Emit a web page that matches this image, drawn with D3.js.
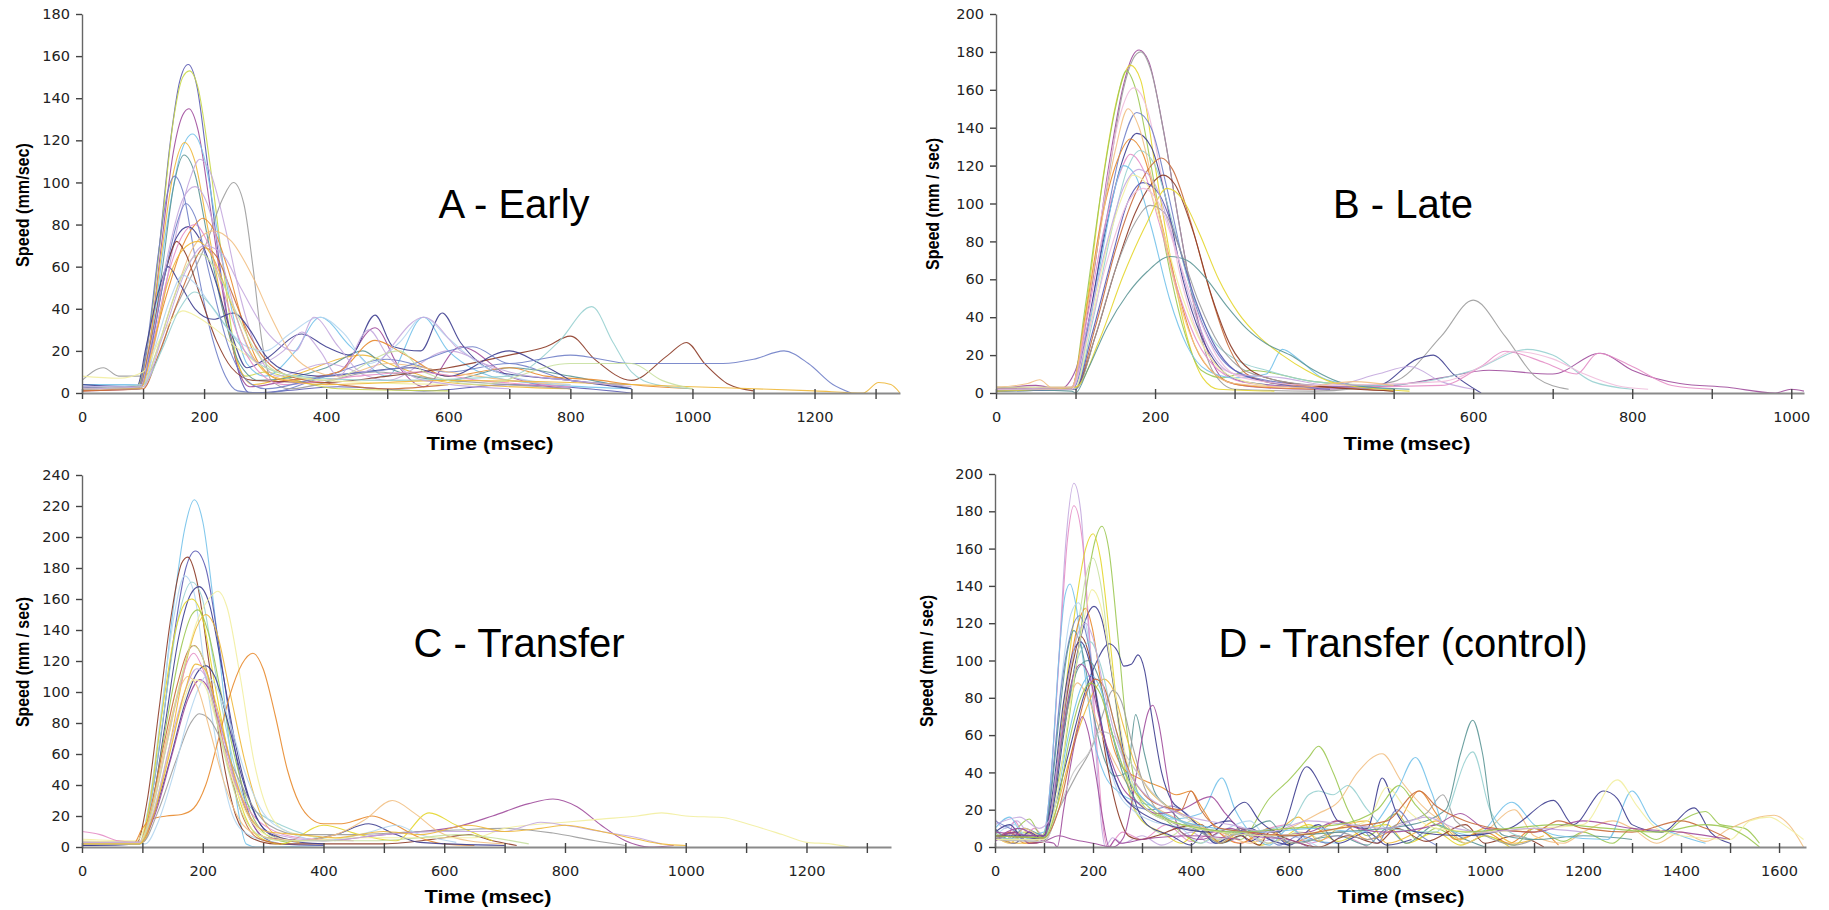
<!DOCTYPE html>
<html>
<head>
<meta charset="utf-8">
<script src="https://cdn.jsdelivr.net/npm/d3@7"></script>
<style>
  body { margin: 0; background: #fff; }
  .tick text { font-family: "DejaVu Sans", sans-serif; font-size: 14.5px; fill: #222; }
  .ptitle { font-family: "Liberation Sans", Arial, sans-serif; font-size: 40px; fill: #000; }
  .atitle { font-family: "Liberation Sans", Arial, sans-serif; font-weight: bold; fill: #000; }
</style>
</head>
<body>
<div id="chart"></div>
<script>
// panel texts and scales
const panelTitles = ["A - Early", "B - Late", "C - Transfer", "D - Transfer (control)"];
const yLabels = ["Speed (mm/sec)", "Speed (mm / sec)", "Speed (mm / sec)", "Speed (mm / sec)"];
const xLabel = "Time (msec)";
const xMax = [1340, 1016, 1340, 1655];
const yMax = [180, 200, 240, 200];
const xTickMax = [1300, 1000, 1300, 1600];

const pal = {
  navy: "#3d3d8f", blue: "#5b5bb4", mblue: "#7080c8", purple: "#a04c9c", lav: "#c4a8de",
  yellow: "#e4d62c", pyellow: "#f2eea0", orange: "#e88a2c", porange: "#f2c084", gold: "#eeb83a",
  sky: "#74c2ea", pblue: "#b4d6f0", teal: "#5c9696", pteal: "#98d0d0", brown: "#8c3a26",
  rust: "#c86a3a", pink: "#e48ec6", ppink: "#f0bcdc", green: "#9cc852", pgreen: "#c8e0a0",
  gray: "#9c9c9c", pgray: "#c8c8c8", ygreen: "#c8d84a"
};

// each run: time (ms), speed (mm/s) pairs
const earlySeries = [
  [0,3, 60,2, 90,2, 105,18, 125,65, 145,120, 160,148, 174,156, 188,146, 205,110, 225,62, 245,25, 262,5, 275,0, 330,1, 420,3, 560,1, 700,4, 900,0],
  [0,2, 90,3, 108,25, 128,72, 150,130, 165,150, 176,153, 190,145, 210,108, 232,58, 252,18, 268,8, 300,10, 350,6, 420,2, 600,1],
  [0,1, 92,2, 110,22, 130,70, 150,115, 165,132, 175,135, 190,125, 210,88, 235,40, 255,12, 275,3, 340,6, 420,10, 480,31, 520,12, 560,3, 620,22, 700,8, 800,2],
  [0,4, 95,4, 112,24, 135,72, 160,112, 181,123, 200,112, 220,80, 245,40, 270,14, 300,8, 350,20, 390,36, 440,22, 500,8, 559,36, 600,20, 700,6, 900,2],
  [0,3, 90,2, 110,22, 130,66, 150,105, 168,119, 185,110, 205,80, 230,42, 255,14, 280,4, 340,8, 460,18, 520,12, 600,5, 800,2],
  [0,2, 95,3, 112,20, 132,60, 150,98, 167,113, 185,104, 205,75, 230,40, 258,14, 290,6, 400,12, 460,20, 500,12, 600,6, 700,12, 800,8, 900,2],
  [0,2, 100,4, 120,25, 150,70, 175,100, 193,111, 210,105, 235,78, 260,45, 290,18, 320,8, 400,14, 500,6, 600,20, 700,8, 800,2],
  [0,3, 92,2, 108,26, 125,66, 140,95, 152,103, 165,96, 185,65, 210,30, 235,8, 255,1, 300,0, 400,8, 500,16, 600,10, 700,14, 800,6, 900,4],
  [0,6, 35,12, 60,8, 100,8, 120,14, 150,38, 180,56, 205,72, 230,92, 248,100, 265,90, 280,60, 295,24, 310,6, 340,2, 480,10, 600,6, 700,4, 800,2],
  [0,1, 95,3, 115,22, 140,48, 165,70, 185,80, 198,83, 215,78, 240,58, 265,32, 290,14, 330,6, 420,10, 480,25, 530,18, 600,8, 700,12, 760,8, 850,6, 900,4, 1000,2],
  [0,3, 95,2, 112,20, 135,55, 155,74, 174,79, 195,72, 220,52, 245,28, 270,12, 300,16, 360,28, 400,22, 440,18, 480,37, 510,22, 555,20, 590,38, 620,24, 680,10, 800,6, 900,2],
  [0,2, 100,4, 120,18, 150,45, 180,68, 215,77, 245,72, 280,55, 310,36, 340,20, 370,12, 420,8, 500,14, 600,10, 700,6, 800,4],
  [0,2, 95,3, 110,20, 130,50, 145,66, 155,72, 170,66, 195,45, 220,25, 245,12, 280,6, 400,5, 500,8, 600,12, 700,18, 760,22, 800,27, 840,16, 900,6, 960,18, 990,24, 1020,14, 1060,4, 1100,1],
  [0,1, 100,2, 125,18, 155,42, 180,60, 200,69, 220,65, 245,48, 270,30, 300,16, 340,8, 420,4, 500,2, 600,4],
  [0,4, 90,3, 105,22, 125,48, 141,60, 160,52, 185,40, 215,35, 248,38, 275,30, 300,18, 340,10, 400,8, 460,10, 540,12, 600,8, 700,20, 750,14, 800,6],
  [0,3, 100,4, 120,22, 145,45, 165,56, 185,52, 210,42, 240,30, 270,22, 300,20, 340,28, 390,36, 430,28, 470,14, 520,24, 559,36, 600,26, 650,14, 700,8, 800,4],
  [0,8, 60,7, 100,10, 125,24, 150,36, 165,39, 190,36, 220,30, 260,20, 300,12, 400,6, 600,4],
  [0,2, 100,4, 130,20, 160,40, 185,48, 210,42, 240,30, 280,16, 350,8, 500,6, 700,8, 780,24, 835,41, 870,24, 900,10, 940,4, 1000,2],
  [0,2, 95,2, 115,22, 140,55, 165,75, 185,80, 205,72, 230,50, 260,24, 290,10, 330,4, 450,8, 550,10, 650,6, 800,3],
  [0,2, 95,2, 112,20, 135,55, 155,80, 170,90, 185,84, 210,55, 240,22, 270,6, 300,2, 400,8, 520,12, 640,22, 700,14, 800,18, 900,14, 980,14, 1050,14, 1100,16, 1150,20, 1190,14, 1230,4, 1260,0],
  [0,2, 95,2, 115,20, 140,52, 165,68, 190,72, 215,64, 245,42, 275,20, 310,8, 400,4, 600,6, 800,5, 1000,3, 1200,1, 1280,0, 1305,5, 1325,4, 1340,0],
  [0,3, 95,3, 112,22, 140,65, 165,92, 185,98, 205,90, 230,62, 260,30, 290,14, 330,20, 360,29, 390,20, 420,8, 470,30, 500,18, 560,6, 700,2],
  [0,2, 100,3, 120,18, 150,45, 175,62, 195,66, 220,58, 250,40, 280,22, 320,10, 400,6, 520,20, 560,10, 650,4, 800,14, 900,14, 950,6, 1000,2],
  [0,2, 100,3, 130,25, 170,58, 200,70, 230,66, 260,50, 300,30, 350,20, 380,36, 420,22, 460,10, 560,36, 620,20, 700,10, 800,6, 900,3]
];
const earlyColors = ["blue", "ygreen", "purple", "sky", "gold", "teal", "lav", "mblue", "gray", "orange", "navy", "porange",
  "brown", "rust", "navy", "pblue", "pyellow", "pteal", "pink", "mblue", "gold", "lav", "pgreen", "lav"];

const lateSeries = [
  [0,2, 50,4, 80,2, 100,12, 120,55, 140,115, 160,162, 172,178, 180,181, 192,175, 210,140, 230,90, 250,45, 270,18, 290,6, 330,3, 400,2, 500,4, 560,8, 620,12, 700,10, 760,21, 800,12, 860,5, 920,3, 980,0, 1000,2, 1016,1],
  [0,3, 95,3, 115,45, 140,110, 160,160, 172,176, 182,180, 195,170, 212,135, 232,85, 252,40, 272,12, 300,2, 400,1, 500,6, 560,30, 600,49, 640,30, 680,8, 720,2],
  [0,2, 95,2, 115,50, 135,115, 155,160, 169,173, 182,165, 200,120, 220,70, 240,30, 260,8, 280,2, 350,1],
  [0,1, 95,2, 112,45, 130,100, 150,150, 164,170, 176,160, 195,120, 215,72, 235,35, 258,12, 285,8, 320,12, 400,6, 480,4],
  [0,2, 95,3, 115,45, 135,100, 155,145, 173,161, 190,150, 210,110, 230,65, 255,30, 280,14, 320,8, 400,4, 500,2],
  [0,1, 98,3, 118,40, 138,90, 158,130, 177,148, 195,140, 215,108, 235,70, 258,38, 280,20, 300,12, 350,6, 400,4, 500,2],
  [0,3, 95,2, 115,35, 135,80, 157,120, 177,137, 195,130, 215,100, 235,60, 258,30, 280,14, 310,6, 400,3, 480,4, 530,18, 550,20, 575,10, 610,0],
  [0,2, 95,2, 112,40, 132,90, 152,122, 169,134, 185,126, 205,95, 228,55, 250,25, 275,10, 310,4, 400,2],
  [0,1, 100,2, 120,35, 145,85, 165,118, 181,128, 200,120, 222,90, 245,55, 270,30, 300,18, 340,12, 400,6, 480,4, 600,12, 668,23, 700,20, 750,6, 800,2],
  [0,2, 95,2, 115,40, 135,85, 155,115, 169,126, 185,118, 205,90, 228,55, 252,28, 280,12, 320,5, 400,3, 560,4, 610,14, 640,22, 690,16, 730,10, 757,21, 800,14, 850,4, 900,2],
  [0,2, 100,3, 125,35, 150,75, 175,105, 195,120, 208,124, 222,118, 245,90, 268,55, 292,25, 315,10, 350,5, 420,3, 500,1],
  [0,2, 100,2, 115,30, 132,70, 148,105, 160,120, 175,115, 195,88, 218,50, 240,25, 265,12, 300,8, 340,10, 360,23, 380,18, 410,8, 450,4, 500,2],
  [0,2, 100,3, 125,30, 150,65, 175,95, 195,110, 210,115, 225,110, 248,85, 272,50, 295,25, 320,12, 360,6, 420,3, 500,1],
  [0,1, 100,2, 120,30, 145,70, 165,100, 185,111, 205,105, 228,80, 250,50, 275,25, 300,12, 340,6, 420,2],
  [0,3, 100,3, 118,35, 140,78, 160,105, 172,115, 190,110, 210,85, 235,50, 260,25, 290,10, 340,4],
  [0,2, 100,2, 125,30, 150,65, 175,90, 194,99, 212,95, 232,75, 255,48, 280,26, 305,14, 340,8, 400,4],
  [0,1, 100,3, 130,28, 160,62, 190,90, 215,108, 235,102, 255,85, 280,60, 305,42, 330,30, 360,20, 390,12, 420,6, 460,3, 520,1],
  [0,2, 95,1, 100,0, 115,12, 140,35, 165,52, 190,64, 219,72, 240,70, 265,60, 290,46, 315,34, 340,26, 370,20, 400,12, 430,6, 470,3, 520,2],
  [0,2, 95,3, 115,35, 140,80, 160,108, 180,118, 200,110, 222,82, 245,48, 270,22, 300,10, 360,8, 420,4, 480,10, 520,14, 560,6, 600,2],
  [0,2, 95,2, 115,30, 140,70, 165,100, 185,108, 205,100, 230,70, 255,40, 280,18, 310,8, 400,4, 560,6, 620,16, 650,22, 700,18, 740,10, 780,4, 820,2],
  [0,3, 40,5, 55,7, 70,3, 95,3, 112,38, 132,88, 150,128, 166,150, 180,140, 200,105, 222,62, 245,30, 270,12, 300,5, 380,3, 450,6, 500,4]
];
const lateColors = ["purple", "gray", "yellow", "green", "ppink", "mblue", "navy", "orange", "pteal", "pink", "rust",
  "sky", "brown", "blue", "pyellow", "gray", "yellow", "teal", "lav", "ppink", "porange"];

const transferSeries = [
  [0,2, 60,3, 95,2, 110,25, 130,80, 150,150, 170,205, 186,224, 200,210, 220,150, 240,80, 258,25, 272,2, 290,0, 400,1],
  [0,1, 95,2, 112,25, 132,75, 152,135, 172,180, 188,191, 205,180, 225,135, 248,75, 270,30, 295,8, 330,2, 400,1],
  [0,2, 90,2, 108,30, 128,90, 148,150, 165,183, 175,187, 190,172, 210,120, 232,60, 255,20, 280,6, 320,2, 500,2, 600,6, 640,8, 680,4, 720,1],
  [0,3, 95,3, 112,30, 132,90, 152,148, 170,175, 185,165, 205,110, 228,55, 250,20, 275,8, 320,3],
  [0,3, 95,2, 112,25, 135,85, 158,145, 182,171, 198,162, 220,115, 245,65, 270,30, 300,20, 330,14, 370,8, 420,4],
  [0,2, 95,2, 115,25, 138,80, 160,135, 180,163, 194,168, 210,158, 232,115, 255,65, 280,28, 305,10, 340,4, 400,2],
  [0,5, 90,4, 110,20, 135,60, 165,110, 190,145, 210,160, 225,165, 240,155, 262,110, 285,55, 310,22, 340,10, 400,6],
  [0,3, 95,2, 112,28, 132,85, 155,140, 172,158, 182,160, 198,150, 220,105, 245,55, 270,20, 295,6, 330,2, 400,14, 460,8, 520,4, 575,22, 620,14, 680,4],
  [0,2, 95,2, 115,25, 140,80, 165,130, 182,150, 192,153, 208,140, 230,100, 255,55, 280,22, 305,8, 340,3],
  [0,2, 100,3, 120,22, 145,65, 170,115, 190,142, 205,150, 222,140, 245,100, 270,55, 295,22, 320,8, 360,3],
  [0,2, 95,2, 112,22, 135,65, 158,105, 175,126, 186,130, 200,122, 222,88, 245,48, 268,18, 290,6, 330,2],
  [0,10, 30,8, 60,4, 95,3, 115,22, 138,62, 160,100, 175,120, 185,125, 200,115, 225,80, 250,45, 280,22, 310,12, 360,6, 450,4],
  [0,2, 85,2, 100,12, 115,18, 140,20, 165,21, 185,25, 205,40, 225,68, 245,98, 265,118, 283,125, 300,115, 320,85, 340,50, 360,28, 380,18, 400,15, 430,15, 460,18, 480,20, 510,16, 560,6, 600,2, 650,1],
  [0,1, 95,2, 118,20, 145,55, 170,92, 190,112, 205,117, 220,110, 242,80, 265,45, 290,18, 315,8, 360,4, 420,8, 475,15, 520,8, 560,3, 700,1],
  [0,2, 95,3, 120,20, 148,58, 175,95, 195,108, 210,102, 232,75, 255,42, 278,18, 305,6, 400,4, 500,8, 560,10, 620,13, 680,20, 740,28, 780,31, 820,26, 860,14, 900,4, 940,0, 980,1],
  [0,3, 100,3, 125,22, 155,55, 180,80, 194,86, 212,82, 235,65, 258,45, 285,25, 310,14, 360,8, 450,8, 560,10, 620,11, 700,12, 780,9, 850,4, 900,1],
  [0,2, 105,2, 125,15, 150,45, 175,82, 195,104, 205,110, 220,105, 245,80, 270,48, 300,22, 340,10, 400,4, 480,10, 520,14, 560,8, 620,3],
  [0,3, 95,3, 115,25, 140,70, 160,100, 175,110, 190,104, 212,75, 235,42, 260,18, 290,8, 350,4, 420,8, 470,18, 514,30, 550,22, 590,10, 640,4, 700,2],
  [0,4, 95,3, 115,20, 140,55, 165,90, 185,108, 200,106, 222,82, 248,45, 275,20, 305,8, 360,4, 450,6, 550,6, 650,6, 700,12, 800,16, 860,18, 920,20, 960,22, 1000,20, 1060,19, 1110,14, 1160,8, 1200,3, 1240,2, 1270,0],
  [0,3, 95,3, 118,22, 145,65, 170,100, 190,115, 205,110, 228,80, 252,45, 278,20, 305,10, 400,4, 500,8, 600,10, 700,10, 760,16, 800,14, 860,10, 920,6, 960,2],
  [0,2, 95,2, 115,22, 140,65, 165,110, 182,130, 196,126, 218,90, 242,50, 265,22, 292,8, 330,4, 480,4, 560,6, 620,8, 680,6, 740,2],
  [0,2, 95,2, 118,20, 145,60, 170,100, 188,118, 203,115, 225,88, 250,50, 275,22, 305,10, 360,8, 420,6, 500,10, 560,8, 640,14, 700,10, 760,12, 800,14, 860,10, 920,5, 960,2, 1000,1]
];
const transferColors = ["sky", "blue", "brown", "pblue", "pteal", "navy", "pyellow", "yellow", "green", "gold", "rust",
  "pink", "orange", "navy", "purple", "gray", "pblue", "porange", "pyellow", "lav", "pgreen", "gold"];

const controlSeries = [
  [0,15, 20,10, 45,14, 70,6, 95,4, 112,30, 130,100, 145,165, 161,195, 175,180, 190,120, 205,55, 218,10, 225,0, 240,5, 260,2, 300,6, 340,1, 400,8, 440,2, 500,10, 540,3, 600,6, 650,0],
  [0,10, 25,4, 40,14, 60,6, 80,10, 100,6, 115,40, 133,110, 148,165, 161,183, 178,165, 195,105, 210,45, 222,8, 230,0, 260,8, 300,4, 350,12, 400,3, 450,8, 500,2, 560,10, 600,12, 640,2, 700,6, 760,0],
  [0,8, 25,4, 45,10, 70,15, 95,6, 115,20, 140,50, 165,95, 190,145, 205,165, 218,172, 232,160, 250,115, 268,65, 285,35, 310,20, 340,16, 370,10, 420,2, 460,8, 500,4, 560,26, 600,36, 640,48, 660,54, 690,40, 720,20, 760,6, 820,18, 860,4, 900,10, 960,2, 1000,6, 1060,1, 1100,10, 1160,3, 1200,8, 1260,2, 1300,10, 1350,4, 1400,14, 1450,19, 1480,12, 1530,10, 1560,2],
  [0,6, 30,2, 60,8, 100,5, 118,25, 142,80, 165,130, 185,160, 200,168, 215,155, 235,110, 255,60, 275,28, 300,14, 340,8, 380,2, 420,10, 460,3, 500,10, 540,1, 580,4, 640,12, 700,3, 760,10, 800,12, 840,2, 900,8, 950,1, 1000,6, 1050,0],
  [0,4, 50,8, 100,4, 120,25, 145,75, 170,120, 188,148, 200,155, 215,142, 235,100, 258,55, 280,25, 310,12, 360,6, 400,14, 450,4, 500,10, 560,2, 620,8, 680,1],
  [0,10, 30,16, 60,6, 100,8, 115,40, 130,100, 143,135, 153,141, 165,130, 180,100, 200,60, 225,38, 250,30, 280,25, 320,22, 360,15, 420,18, 463,37, 490,20, 520,8, 560,1, 600,10, 640,4, 700,2],
  [0,6, 40,2, 70,8, 100,4, 118,20, 140,60, 165,100, 185,122, 202,129, 218,122, 240,90, 262,52, 285,25, 310,12, 360,6, 400,1, 430,10, 480,14, 520,3, 560,9, 600,1, 660,12, 700,2, 760,8, 800,1, 850,4],
  [0,4, 30,8, 60,2, 100,3, 118,25, 140,70, 160,108, 175,124, 185,128, 198,118, 218,85, 240,55, 262,42, 285,38, 310,35, 340,32, 370,28, 400,30, 420,22, 450,10, 500,2, 560,10, 600,2, 660,8, 700,14, 760,4, 820,12, 866,30, 900,18, 940,4, 1000,8, 1050,2, 1100,10, 1150,1],
  [0,6, 40,12, 70,4, 100,5, 118,40, 138,95, 155,125, 170,131, 185,120, 205,85, 228,50, 250,30, 280,20, 320,14, 380,10, 420,2, 460,8, 520,14, 560,4, 600,6, 660,0],
  [0,14, 30,10, 60,6, 100,4, 116,35, 135,85, 155,115, 173,124, 188,112, 208,80, 230,50, 255,30, 285,22, 320,20, 360,22, 390,18, 420,10, 450,2, 480,6, 540,8, 580,1, 620,6, 680,2, 740,12, 780,2, 820,20, 860,8, 900,1],
  [0,10, 30,4, 60,10, 100,6, 115,30, 132,72, 148,105, 161,116, 178,105, 200,72, 222,48, 245,38, 270,40, 287,71, 305,50, 325,30, 350,22, 380,14, 420,8, 460,2, 500,6, 560,14, 600,2, 700,6, 760,1, 800,10, 840,2, 900,12, 960,4, 1000,0],
  [0,4, 40,8, 70,2, 100,3, 120,30, 140,70, 160,100, 175,113, 190,105, 210,75, 232,40, 255,15, 272,6, 295,4, 330,6, 370,10, 420,12, 460,2, 500,6, 540,1, 560,8, 600,4, 660,0, 720,6, 780,2, 820,10, 880,3, 960,12, 1000,2, 1060,6, 1120,0],
  [0,8, 30,12, 60,4, 100,6, 120,20, 150,50, 180,80, 205,98, 233,109, 250,105, 263,97, 278,98, 292,103, 305,95, 320,70, 340,40, 360,25, 380,20, 420,10, 450,2, 480,6, 520,10, 560,4, 600,1],
  [0,5, 50,2, 100,5, 125,20, 150,45, 180,70, 205,85, 222,90, 240,85, 262,65, 285,45, 310,32, 340,24, 380,18, 420,12, 460,2, 500,8, 560,6, 620,16, 660,3, 700,10, 760,14, 800,2, 860,8, 900,14, 950,4, 1000,10, 1060,2, 1120,6],
  [0,6, 30,2, 60,10, 100,5, 120,30, 145,70, 168,88, 190,80, 215,62, 245,45, 275,32, 310,24, 350,18, 400,12, 460,8, 520,2, 560,6, 600,10, 660,18, 700,24, 740,40, 790,50, 830,35, 880,20, 920,12, 960,2, 1000,8, 1060,20, 1100,6, 1160,2, 1200,8, 1260,14, 1300,10, 1350,2, 1400,8, 1450,3, 1500,10, 1560,16, 1590,17, 1620,12, 1650,0],
  [0,4, 100,3, 130,20, 165,38, 200,55, 225,75, 240,84, 258,78, 280,55, 305,32, 330,20, 370,12, 420,8, 460,2, 500,10, 560,6, 620,2, 700,8, 760,4, 820,12, 880,18, 914,28, 940,14, 1000,6, 1060,1, 1100,4],
  [0,3, 40,8, 70,2, 100,3, 130,6, 160,4, 200,2, 240,0, 262,5, 280,25, 298,55, 312,72, 322,76, 335,65, 350,40, 365,18, 380,8, 420,4, 480,10, 520,6, 600,4, 640,0],
  [0,4, 50,10, 100,3, 120,2, 127,0, 140,20, 155,45, 168,62, 178,70, 190,62, 205,40, 220,15, 233,0, 245,4, 255,2, 300,4, 400,6, 500,4],
  [0,4, 100,3, 130,20, 160,40, 190,50, 215,62, 240,60, 270,48, 300,36, 340,24, 400,14, 460,4, 500,8, 560,2, 600,6],
  [0,5, 100,4, 120,30, 150,80, 175,105, 195,110, 215,98, 240,70, 265,45, 290,30, 320,22, 360,16, 420,10, 500,8, 600,12, 640,28, 660,30, 690,28, 720,33, 760,20, 800,10, 900,8, 975,51, 1010,20, 1050,8, 1100,4],
  [0,6, 100,5, 120,28, 145,70, 170,96, 190,100, 210,92, 235,65, 260,40, 285,26, 320,18, 380,12, 460,8, 560,6, 700,8, 850,12, 920,20, 950,50, 975,68, 995,50, 1015,15, 1040,6, 1100,4, 1200,6, 1300,4],
  [0,4, 100,4, 125,25, 150,60, 175,85, 195,92, 215,85, 240,60, 265,40, 295,28, 330,20, 380,14, 450,10, 550,8, 650,10, 750,8, 820,30, 858,48, 890,30, 920,10, 980,6, 1055,24, 1100,12, 1150,6, 1250,4, 1300,30, 1340,14, 1400,6, 1450,2],
  [0,6, 100,6, 118,30, 140,78, 160,105, 175,110, 192,100, 212,72, 235,45, 260,28, 290,20, 330,14, 380,10, 440,8, 510,24, 540,14, 580,8, 636,43, 670,30, 700,14, 760,10, 790,37, 820,18, 860,8, 950,6, 1050,10, 1140,25, 1180,12, 1242,30, 1270,26, 1300,12, 1360,8, 1427,21, 1460,8, 1500,2],
  [0,8, 100,6, 118,25, 140,65, 160,92, 175,98, 192,92, 212,70, 235,48, 260,32, 290,24, 330,18, 380,20, 440,27, 470,18, 500,10, 560,6, 640,8, 700,14, 740,10, 800,8, 900,12, 950,18, 1000,10, 1100,8, 1200,14, 1300,10, 1400,8, 1500,4],
  [0,4, 100,4, 125,25, 150,70, 180,120, 198,138, 215,130, 238,95, 262,55, 285,30, 320,18, 380,12, 460,8, 560,6, 660,8, 760,14, 800,32, 840,20, 900,10, 1000,8, 1100,10, 1200,12, 1270,36, 1310,22, 1350,10, 1400,6, 1500,4, 1540,14, 1580,16, 1620,10, 1650,4],
  [0,6, 100,5, 130,20, 160,55, 190,85, 205,90, 222,86, 248,62, 275,40, 305,28, 340,22, 380,20, 400,30, 420,20, 460,10, 520,8, 600,6, 700,10, 800,14, 866,30, 900,22, 960,14, 1020,10, 1100,8, 1150,14, 1200,10, 1300,8, 1400,14, 1450,10, 1500,4],
  [0,12, 50,16, 90,10, 110,14, 125,40, 150,90, 170,115, 185,120, 200,112, 222,85, 245,60, 270,42, 300,30, 340,22, 400,16, 480,12, 560,8, 640,14, 720,12, 800,10, 880,16, 940,10, 1000,8, 1100,10, 1200,8],
  [0,6, 100,5, 125,20, 150,55, 175,80, 195,88, 215,82, 240,60, 265,40, 290,28, 320,20, 360,14, 420,10, 500,8, 600,10, 700,12, 780,20, 825,33, 860,22, 900,12, 960,8, 1050,10, 1150,12, 1250,10, 1350,8, 1450,12, 1500,10, 1530,6, 1560,0]
];
const controlColors = ["lav", "pink", "green", "yellow", "pgreen", "sky", "navy", "orange", "pblue", "mblue", "teal",
  "brown", "navy", "gold", "porange", "gray", "purple", "purple", "pgray", "pteal", "teal", "sky", "navy", "purple",
  "pyellow", "rust", "lav", "green"];

const allSeries = [earlySeries, lateSeries, transferSeries, controlSeries];
const allColors = [earlyColors, lateColors, transferColors, controlColors];

// panel boxes on the page
const layout = [
  {x0: 82,  x1: 900,  y0: 393, y1: 14,  tx: 514,  ty: 218, lx: 29,  ly: 205, lw: 124, bx: 490,  by: 450},
  {x0: 996, x1: 1804, y0: 393, y1: 14,  tx: 1403, ty: 218, lx: 939, ly: 204, lw: 132, bx: 1407, by: 450},
  {x0: 82,  x1: 891,  y0: 847, y1: 475, tx: 519,  ty: 657, lx: 29,  ly: 662, lw: 130, bx: 488,  by: 903},
  {x0: 995, x1: 1806, y0: 847, y1: 474, tx: 1403, ty: 657, lx: 933, ly: 661, lw: 132, bx: 1401, by: 903}
];

const svg = d3.select("#chart").append("svg")
  .attr("width", 1829)
  .attr("height", 910);

function toPoints(flat) {
  const pts = [];
  for (let i = 0; i < flat.length; i += 2) pts.push([flat[i], flat[i + 1]]);
  return pts;
}

layout.forEach((L, i) => {
  const x = d3.scaleLinear().domain([0, xMax[i]]).range([L.x0, L.x1]);
  const y = d3.scaleLinear().domain([0, yMax[i]]).range([L.y0, L.y1]);

  const g = svg.append("g");

  g.append("clipPath").attr("id", "clip" + i)
    .append("rect")
      .attr("x", L.x0).attr("y", L.y1 - 2)
      .attr("width", L.x1 - L.x0).attr("height", L.y0 - L.y1 + 2);

  const line = d3.line()
    .x(d => x(d[0]))
    .y(d => y(d[1]))
    .curve(d3.curveMonotoneX);

  g.append("g").attr("clip-path", `url(#clip${i})`)
    .selectAll("path")
    .data(allSeries[i])
    .join("path")
      .attr("d", d => line(toPoints(d)))
      .attr("fill", "none")
      .attr("stroke", (d, j) => pal[allColors[i][j]])
      .attr("stroke-width", 1.1)
      .attr("stroke-opacity", 0.9);

  // x axis
  const xAxis = g.append("g")
    .attr("transform", `translate(0,${L.y0})`)
    .call(d3.axisBottom(x)
      .tickValues(d3.range(0, xTickMax[i] + 1, 100))
      .tickFormat(v => v % 200 === 0 ? v : "")
      .tickSize(6).tickSizeOuter(0));
  xAxis.select(".domain").attr("stroke", "#8a8a8a").attr("stroke-width", 2);
  xAxis.selectAll(".tick line").attr("y1", -4).attr("stroke", "#444").attr("stroke-width", 1.4);
  xAxis.selectAll(".tick text").attr("y", 19);

  // y axis
  const yAxis = g.append("g")
    .attr("transform", `translate(${L.x0},0)`)
    .call(d3.axisLeft(y)
      .tickValues(d3.range(0, yMax[i] + 1, 20))
      .tickSize(6).tickSizeOuter(0).tickPadding(6));
  yAxis.select(".domain").attr("stroke", "#666").attr("stroke-width", 1.4);
  yAxis.selectAll(".tick line").attr("stroke", "#444").attr("stroke-width", 1.4);

  // panel title
  g.append("text").attr("class", "ptitle")
    .attr("x", L.tx).attr("y", L.ty)
    .attr("text-anchor", "middle")
    .text(panelTitles[i]);

  // axis titles
  g.append("text").attr("class", "atitle")
    .attr("transform", `translate(${L.lx},${L.ly}) rotate(-90)`)
    .attr("text-anchor", "middle")
    .attr("font-size", 19)
    .attr("textLength", L.lw)
    .attr("lengthAdjust", "spacingAndGlyphs")
    .text(yLabels[i]);

  g.append("text").attr("class", "atitle")
    .attr("x", L.bx).attr("y", L.by)
    .attr("text-anchor", "middle")
    .attr("font-size", 18.5)
    .attr("textLength", 127)
    .attr("lengthAdjust", "spacingAndGlyphs")
    .text(xLabel);
});
</script>
</body>
</html>
